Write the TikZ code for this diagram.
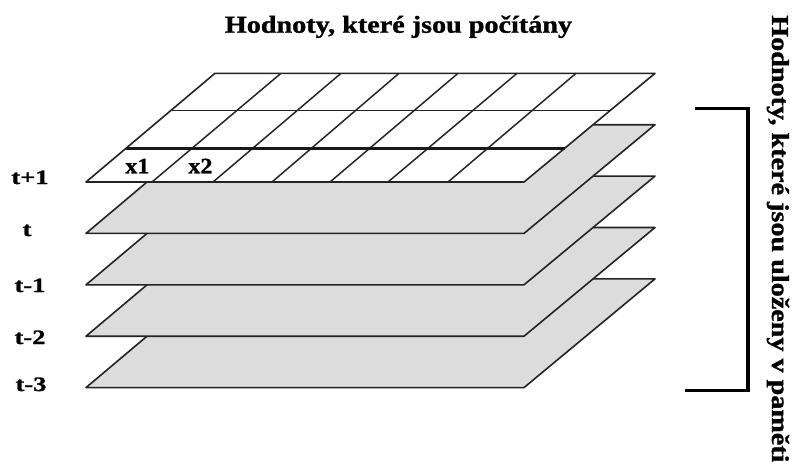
\documentclass[tikz,border=0pt]{standalone}
\usepackage{fontspec}
\setmainfont{Liberation Serif}
\newfontfamily\ttlfont{Liberation Serif}[FakeStretch=1.16,FakeBold=1.2]
\newfontfamily\lblfont{Liberation Serif}[FakeStretch=1.3,FakeBold=1.2]
\newfontfamily\cellfont{Liberation Serif}[FakeStretch=1.1,FakeBold=1]
\usetikzlibrary{calc}
\definecolor{layergray}{RGB}{220,220,220}
\definecolor{edgecol}{RGB}{35,35,35}
\begin{document}
\begin{tikzpicture}[x=0.75pt,y=-0.75pt,
  layer/.style={fill=layergray,draw=edgecol,line width=1.2pt,line join=round},
  toplayer/.style={fill=white,draw=edgecol,line width=1.2pt,line join=round},
  gridline/.style={draw=edgecol,line width=1.1pt},
  thickline/.style={draw=black!90,line width=2.4pt},
  titletext/.style={font=\ttlfont\bfseries\fontsize{18.2}{21}\selectfont,inner sep=0pt},
  tlabel/.style={font=\lblfont\bfseries\fontsize{15.3}{18}\selectfont,inner sep=0pt,anchor=base},
  clabel/.style={font=\cellfont\bfseries\fontsize{16.5}{19}\selectfont,inner sep=0pt,anchor=base west},
  bracketline/.style={draw=black,line width=2.5pt}]
\useasboundingbox (0,0) rectangle (795,461);
% stacked memory layers (t-3 ... t)
\foreach \k in {4,3,2,1}{
  \draw[layer] (86,{182+51.4*\k}) -- (524,{182+51.4*\k}) -- (655,{73.3+51.4*\k}) -- (215,{73.3+51.4*\k}) -- cycle;
}
% top layer t+1 with grid
\coordinate (bl) at (86,182);
\coordinate (br) at (524,182);
\coordinate (tr) at (655,73.3);
\coordinate (tl) at (215,73.3);
\draw[toplayer] (bl) -- (br) -- (tr) -- (tl) -- cycle;
\foreach \b/\t in {152/281,213/341,272/399,330/458,388/517,448/576}
  \draw[gridline] (\b,182) -- (\t,73.3);
\draw[gridline] ($(bl)!0.656!(tl)$) -- ($(br)!0.656!(tr)$);
\draw[thickline] ($(bl)!0.31!(tl)$) -- ($(br)!0.31!(tr)$);
\node[clabel] (x1) at (125,173.3) {x1};
\node[clabel] (x2) at (188,173.3) {x2};
% time labels
\node[tlabel] (l1) at (30,184) {t+1};
\node[tlabel] (l2) at (27,236) {t};
\node[tlabel] (l3) at (30,292) {t-1};
\node[tlabel] (l4) at (30,344) {t-2};
\node[tlabel] (l5) at (31,391) {t-3};
% title
\node[titletext,anchor=base] (title) at (398.5,32.7) {Hodnoty, které jsou počítány};
% bracket and vertical text
\coordinate (b1) at (695,108.3);
\coordinate (b2) at (748,108.3);
\coordinate (b3) at (748,390.7);
\coordinate (b4) at (685,390.7);
\draw[bracketline] (b1) -- (b2) -- (b3) -- (b4);
\node[titletext,rotate=-90,anchor=base west] (side) at (772,15) {Hodnoty, které jsou uloženy v paměti};
\end{tikzpicture}
\end{document}
